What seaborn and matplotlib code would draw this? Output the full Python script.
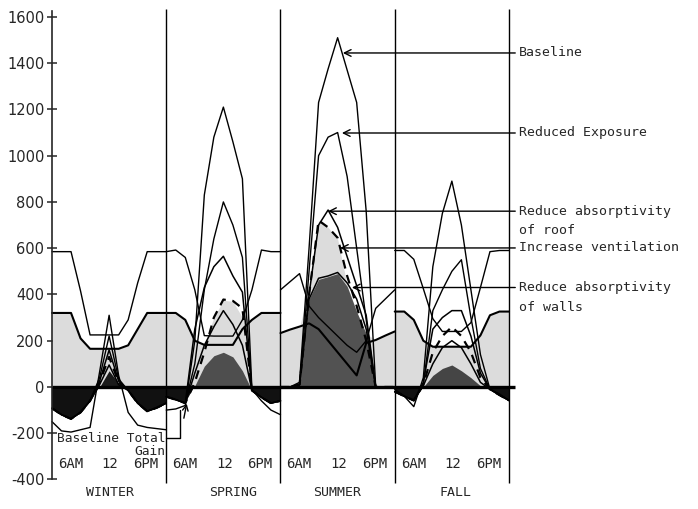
import numpy as np
import matplotlib
matplotlib.use("Agg")
import matplotlib.pyplot as plt
import seaborn as sns

# ---------------- data ----------------
seasons = ["WINTER", "SPRING", "SUMMER", "FALL"]
season_label_x = [12.2, 38.0, 59.9, 84.7]
hours = [0, 2, 4, 6, 8, 10, 12, 14, 16, 18, 20, 22, 24]
hour_ticks = [3.9, 12.2, 19.7]
hour_labels = ["6AM", "12", "6PM"]
yticks = [-400, -200, 0, 200, 400, 600, 800, 1000, 1200, 1400, 1600]

# one list per season: winter, spring, summer, fall
upper_line = [
    [585, 585, 585, 415, 225, 225, 225, 225, 290, 450, 585, 585, 585],
    [585, 592, 560, 420, 222, 220, 220, 220, 290, 420, 592, 585, 585],
    [420, 455, 490, 350, 300, 260, 220, 180, 150, 200, 340, 380, 420],
    [590, 590, 552, 425, 295, 240, 240, 240, 278, 430, 585, 590, 590],
]
mid_line = [
    [320, 320, 320, 210, 165, 165, 165, 165, 180, 250, 320, 320, 320],
    [320, 320, 290, 200, 182, 182, 182, 182, 250, 290, 320, 320, 320],
    [233, 248, 261, 275, 250, 200, 150, 100, 50, 190, 203, 222, 240],
    [326, 326, 290, 200, 174, 174, 174, 174, 174, 223, 310, 326, 326],
]
light_fill = [
    [320, 320, 320, 210, 165, 165, 165, 165, 180, 250, 320, 320, 320],
    [320, 320, 290, 200, 185, 300, 375, 370, 300, 290, 320, 320, 320],
    [233, 248, 261, 420, 720, 690, 640, 440, 325, 230, 203, 222, 240],
    [326, 326, 290, 200, 174, 174, 174, 174, 174, 223, 310, 326, 326],
]
dark_fill = [
    [-92, -120, -138, -110, -60, 0, 70, 15, -15, -70, -105, -90, -70],
    [-42, -55, -70, 5, 90, 135, 150, 130, 70, -15, -45, -70, -60],
    [0, 0, 10, 380, 465, 477, 490, 435, 325, 230, 0, 0, 0],
    [-20, -40, -55, 0, 50, 80, 95, 70, 40, 5, -10, -35, -58],
]
baseline = [
    [-150, -190, -195, -185, -175, 65, 310, 50, -110, -165, -175, -180, -185],
    [-100, -95, -80, 200, 830, 1080, 1210, 1060, 900, -10, -60, -100, -120],
    [0, 0, 20, 600, 1230, 1375, 1510, 1370, 1230, 760, 0, 0, 0],
    [-10, -40, -85, 40, 520, 750, 890, 700, 420, 140, -10, -30, -60],
]
reduced_exposure = [
    [-92, -120, -138, -110, -60, 40, 220, 35, -15, -70, -105, -90, -70],
    [-42, -55, -70, 100, 420, 640, 800, 700, 560, -15, -45, -70, -60],
    [0, 0, 10, 500, 1000, 1080, 1100, 910, 600, 290, 0, 0, 0],
    [-20, -40, -60, 10, 330, 420, 500, 550, 300, 80, -10, -35, -58],
]
roof_absorptivity = [
    [-92, -120, -138, -110, -60, 25, 160, 25, -15, -70, -105, -90, -70],
    [-42, -55, -70, 250, 430, 520, 565, 480, 410, -15, -45, -70, -60],
    [0, 0, 10, 400, 700, 765, 690, 563, 438, 310, 0, 0, 0],
    [-20, -40, -58, 20, 250, 300, 330, 330, 220, 60, -10, -35, -58],
]
increase_ventilation = [
    [-92, -120, -138, -110, -60, 20, 130, 20, -15, -70, -105, -90, -70],
    [-42, -55, -70, 20, 150, 300, 378, 372, 340, -15, -45, -70, -60],
    [0, 0, 10, 400, 720, 690, 645, 480, 350, 200, 0, 0, 0],
    [-20, -40, -58, 10, 150, 220, 260, 220, 150, 40, -10, -35, -58],
]
wall_absorptivity = [
    [-92, -120, -138, -110, -60, 10, 95, 10, -15, -70, -105, -90, -70],
    [-42, -55, -70, 60, 180, 260, 330, 270, 180, -15, -45, -70, -60],
    [0, 0, 10, 380, 470, 480, 495, 450, 380, 250, 0, 0, 0],
    [-20, -40, -58, 5, 100, 170, 200, 170, 100, 20, -10, -35, -58],
]

# annotation targets (x in hours on the 0..96 axis, y in value units)
ann_labels = ["Baseline", "Reduced Exposure", "Reduce absorptivity",
              "Increase ventilation", "Reduce absorptivity"]
ann_second = ["", "", "of roof", "", "of walls"]
ann_x = [61.1, 60.9, 58.0, 60.5, 63.0]
ann_y = [1444, 1098, 760, 601, 430]

# ---------------- style ----------------
sns.set_style("white")
plt.rcParams['font.family'] = ['DejaVu Sans']
plt.rcParams['axes.unicode_minus'] = False
MONO = ['DejaVu Sans Mono']

fig = plt.figure(figsize=(6.98, 5.09), dpi=100)
ax = fig.add_axes([0, 0, 1, 1])
ax.set_xlim(-10.92, 135.7)
ax.set_ylim(-527.6, 1673)

pos_dark = ['#1a1a1a', '#4e4e4e', '#525252', '#454545']
hrs = np.array(hours, dtype=float)

for s in range(4):
    xs = hrs + 24 * s
    lf = np.array(light_fill[s], dtype=float)
    df = np.array(dark_fill[s], dtype=float)
    ax.fill_between(xs, 0, lf, color='#dcdcdc', lw=0, zorder=1)
    ax.fill_between(xs, 0, df, where=df >= 0, interpolate=True,
                    color=pos_dark[s], lw=0, zorder=2)
    ax.fill_between(xs, 0, df, where=df <= 0, interpolate=True,
                    color='#111111', lw=0, zorder=2)

    sns.lineplot(x=xs, y=upper_line[s], ax=ax, color='k', lw=1.0, zorder=3)
    sns.lineplot(x=xs, y=mid_line[s], ax=ax, color='k', lw=1.5, zorder=3)
    sns.lineplot(x=xs, y=baseline[s], ax=ax, color='k', lw=1.0, zorder=3)
    sns.lineplot(x=xs, y=reduced_exposure[s], ax=ax, color='k', lw=1.0, zorder=3)
    sns.lineplot(x=xs, y=roof_absorptivity[s], ax=ax, color='k', lw=1.1, zorder=3)
    sns.lineplot(x=xs, y=increase_ventilation[s], ax=ax, color='k', lw=1.6,
                 linestyle=(0, (4, 3)), zorder=3)
    sns.lineplot(x=xs, y=wall_absorptivity[s], ax=ax, color='k', lw=1.1, zorder=3)

# season dividers and zero line
ax.vlines([24, 48, 72, 96], -415, 1635, color='k', lw=1.0, zorder=4)
ax.hlines(0, 0, 97.3, color='k', lw=2.4, zorder=5)

# axis
for sp in ['top', 'right', 'bottom']:
    ax.spines[sp].set_visible(False)
ax.spines['left'].set_position(('data', 0))
ax.spines['left'].set_bounds(-400, 1625)
ax.spines['left'].set_linewidth(1.2)
ax.spines['left'].set_zorder(6)
ax.set_xticks([])
ax.set_yticks(yticks)
ax.set_yticklabels([str(v) for v in yticks])
ax.tick_params(axis='y', direction='inout', length=7, width=1.1,
               labelsize=10.5, pad=2, left=True)
ax.set_xlabel('')
ax.set_ylabel('')

# hour and season labels
for s in range(4):
    for hx, lab in zip(hour_ticks, hour_labels):
        ax.text(24 * s + hx, -333, lab, ha='center', va='center',
                family=MONO, fontsize=10)
    ax.text(season_label_x[s], -458, seasons[s], ha='center', va='center',
            family=MONO, fontsize=9.5)

# right-hand annotations
for lab, sec, xx, yy in zip(ann_labels, ann_second, ann_x, ann_y):
    ax.annotate(lab, xy=(xx, yy), xytext=(98.0, yy), ha='left', va='center',
                family=MONO, fontsize=9.5,
                arrowprops=dict(arrowstyle='->', color='k', lw=1.0,
                                shrinkA=0, shrinkB=0, mutation_scale=12),
                zorder=7)
    if sec:
        ax.text(98.0, yy - 85, sec, ha='left', va='center', family=MONO,
                fontsize=9.5)

# "Baseline Total Gain" label with bracket
ax.text(23.8, -250, "Baseline Total\nGain", ha='right', va='center',
        multialignment='right', family=MONO, fontsize=9.3, linespacing=1.0,
        zorder=7)
ax.plot([23.9, 26.9, 26.9], [-220, -220, -100], color='k', lw=1.0, zorder=7)
ax.annotate('', xy=(28.3, -72), xytext=(27.7, -135),
            arrowprops=dict(arrowstyle='->', color='k', lw=1.0,
                            shrinkA=0, shrinkB=0, mutation_scale=10), zorder=7)

fig.savefig("out.png", dpi=100)
